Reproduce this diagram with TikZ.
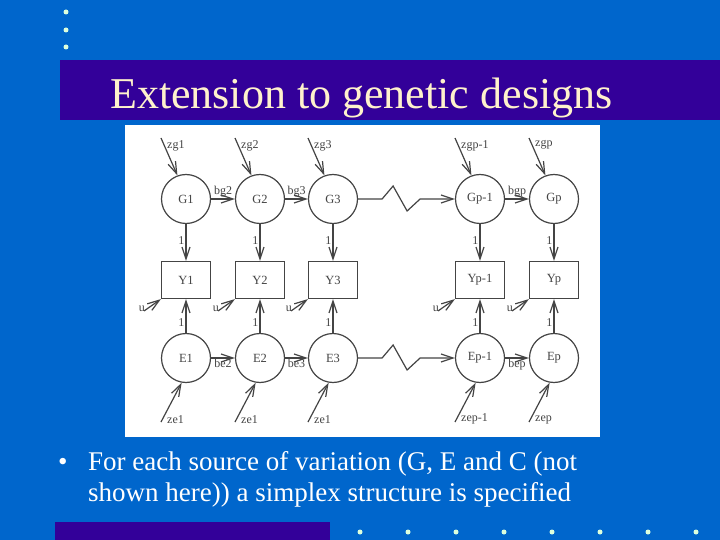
\documentclass[tikz,border=0pt]{standalone}
\usepackage{fontspec}
\setmainfont{Liberation Serif}
\usetikzlibrary{arrows.meta,calc}
\definecolor{bgblue}{HTML}{0066CC}
\definecolor{barpurple}{HTML}{330099}
\definecolor{titlecol}{HTML}{FFF2CC}
\definecolor{dotcol}{HTML}{DDFFDD}
\definecolor{ink}{HTML}{444444}
\begin{document}
\begin{tikzpicture}[x=1pt,y=-1pt,
  lat/.style={circle,draw=ink,line width=1.2pt,minimum size=49pt,inner sep=0pt,font=\fontsize{12.5}{13}\selectfont,text=ink},
  obs/.style={rectangle,draw=ink,line width=1.2pt,minimum width=49pt,minimum height=37pt,inner sep=0pt,font=\fontsize{12.5}{13}\selectfont,text=ink},
  arr/.style={draw=ink,line width=1.2pt,-{Straight Barb[length=12pt,width=8pt,line width=1.2pt]}},
  lbl/.style={font=\fontsize{12}{13}\selectfont,text=ink,inner sep=1pt},
  dot/.style={circle,fill=dotcol,minimum size=5pt,inner sep=0pt}]
\fill[bgblue] (0,0) rectangle (720,540);
\useasboundingbox (0,0) rectangle (720,540);
\foreach \yy/\n in {12/a,30/b,47/c} \node[dot] (d\n) at (66,\yy) {};
\fill[barpurple] (60,60) rectangle (720,120);
\node[anchor=base west,text=titlecol,font=\fontsize{44}{46}\selectfont,inner sep=0] (title) at (110,109) {Extension to genetic designs};
\fill[white] (125,125) rectangle (600,437);
% nodes
\foreach \n/\x/\t in {1/186/1,2/260/2,3/333/3,4/480/p-1,5/554/p}{
  \node[lat] (G\n) at (\x,199) {G\t};
  \node[obs] (Y\n) at (\x,280) {Y\t};
  \node[lat] (E\n) at (\x,358) {E\t};
  \draw[arr] (G\n) -- node[lbl,left,pos=0.45] {1} (Y\n);
  \draw[arr] (E\n) -- node[lbl,left,pos=0.3] {1} (Y\n);
  \coordinate (zg\n) at (\x-25,138);
  \coordinate (u\n) at (\x-42,311);
  \coordinate (ze\n) at (\x-25,422);
  \draw[arr] (zg\n) -- (G\n.110);
  \draw[arr] (u\n) -- (Y\n.south west);
  \draw[arr] (ze\n) -- (E\n.260);
  \node[lbl,left] at ($(u\n)+(2,-2)$) {u};
}
\foreach \n/\t in {1/zg1,2/zg2,3/zg3,4/zgp-1,5/zgp} \node[lbl,anchor=north west] at ($(zg\n)+(5,1)$) {\t};
\foreach \n/\t in {1/ze1,2/ze1,3/ze1,4/zep-1,5/zep} \node[lbl,anchor=south west] at ($(ze\n)+(5,3)$) {\t};
\draw[arr] (G1) -- node[lbl,above] {bg2} (G2);
\draw[arr] (G2) -- node[lbl,above] {bg3} (G3);
\draw[arr] (G4) -- node[lbl,above] {bgp} (G5);
\draw[arr] (E1) -- node[lbl,below] {be2} (E2);
\draw[arr] (E2) -- node[lbl,below] {be3} (E3);
\draw[arr] (E4) -- node[lbl,below] {bep} (E5);
\draw[arr] (G3.east) -- ++(24,0) -- ++(11,-13) -- ++(14,25) -- ++(13,-12) -- (G4.west);
\draw[arr] (E3.east) -- ++(24,0) -- ++(11,-13) -- ++(14,25) -- ++(13,-12) -- (E4.west);
% bullet text
\node[anchor=base west,text=white,font=\fontsize{27}{28}\selectfont,inner sep=0] (bul) at (58,470) {•};
\node[anchor=base west,text=white,font=\fontsize{27}{28}\selectfont,inner sep=0] (txt) at (88,470) {For each source of variation (G, E and C (not};
\node[anchor=base west,text=white,font=\fontsize{27}{28}\selectfont,inner sep=0] (txt2) at (88,501) {shown here)) a simplex structure is specified};
\fill[barpurple] (55,522) rectangle (330,540);
\foreach \xx in {360,408,456,504,552,600,648,696} \node[dot] at (\xx,532) {};
\end{tikzpicture}
\end{document}
